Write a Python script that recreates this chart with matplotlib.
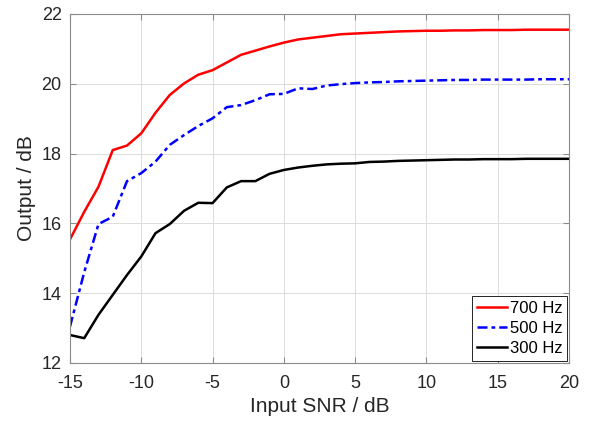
import matplotlib
matplotlib.use("Agg")
from matplotlib import pyplot as plt

# input SNR (dB), one point per integer step
snr = list(range(-15, 21))

out_700 = [15.54, 16.33, 17.05, 18.10, 18.23, 18.58, 19.17, 19.68, 20.01, 20.26,
           20.39, 20.61, 20.83, 20.95, 21.07, 21.18, 21.27, 21.32, 21.37, 21.42,
           21.44, 21.46, 21.48, 21.50, 21.51, 21.52, 21.52, 21.53, 21.53, 21.54,
           21.54, 21.54, 21.55, 21.55, 21.55, 21.55]
out_500 = [13.04, 14.60, 15.98, 16.19, 17.21, 17.44, 17.77, 18.25, 18.53, 18.79,
           19.01, 19.33, 19.39, 19.53, 19.70, 19.71, 19.87, 19.85, 19.95, 19.99,
           20.02, 20.04, 20.05, 20.07, 20.08, 20.09, 20.10, 20.11, 20.11, 20.12,
           20.12, 20.12, 20.12, 20.13, 20.13, 20.13]
out_300 = [12.80, 12.71, 13.38, 13.95, 14.52, 15.05, 15.72, 15.98, 16.36, 16.59,
           16.58, 17.03, 17.21, 17.21, 17.42, 17.53, 17.60, 17.65, 17.69, 17.71,
           17.72, 17.76, 17.77, 17.79, 17.80, 17.81, 17.82, 17.83, 17.83, 17.84,
           17.84, 17.84, 17.85, 17.85, 17.85, 17.85]

plt.rcParams["font.family"] = ["Liberation Sans", "DejaVu Sans"]
plt.rcParams["axes.unicode_minus"] = False

fig = plt.figure(figsize=(5.93, 4.24), dpi=100)
ax = fig.add_axes([0.118, 0.144, 0.8415, 0.823])

ax.plot(snr, out_700, color="red", lw=1.8, label="700 Hz")
ax.plot(snr, out_500, color="blue", lw=1.8, ls=(0, (4, 1.6, 1.5, 1.6)), label="500 Hz")
ax.plot(snr, out_300, color="black", lw=1.8, label="300 Hz")

ax.set_xlim(-15, 20)
ax.set_ylim(12, 22)
ax.set_xticks(range(-15, 21, 5))
ax.set_yticks(range(12, 23, 2))
ax.grid(True, color="#dcdcdc", lw=0.7)
ax.set_axisbelow(True)
for s in ax.spines.values():
    s.set_color("#8c8c8c")
    s.set_linewidth(0.8)
ax.tick_params(direction="in", length=4, color="#8c8c8c", labelsize=13,
               labelcolor="#262626", top=True, right=True)
ax.tick_params(axis="x", pad=9)
ax.tick_params(axis="y", pad=6)

ax.set_xlabel("Input SNR / dB", fontsize=15, color="#262626", labelpad=3)
ax.set_ylabel("Output / dB", fontsize=15, color="#262626", labelpad=4)

leg = ax.legend(loc="lower right", fontsize=12, fancybox=False, framealpha=1,
                edgecolor="black", borderaxespad=0.1, handlelength=1.8,
                handletextpad=0.15, labelspacing=0.32, borderpad=0.3)
leg.get_frame().set_linewidth(0.6)

fig.savefig("out.png", dpi=100)
